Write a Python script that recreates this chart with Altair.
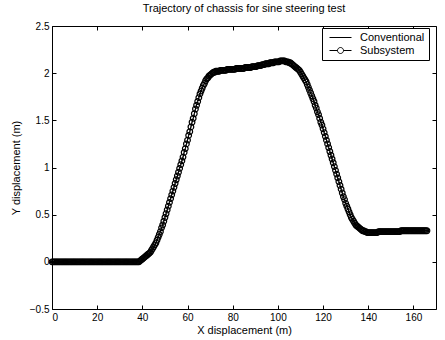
import altair as alt
import numpy as np
import pandas as pd

# ---- data (x step 0.5 m) ----
y_flat_start = [0.0] * 78  # x = 0 .. 38.5, vehicle on straight line
y_rise = [0.01, 0.02, 0.03, 0.04, 0.05, 0.06, 0.07, 0.08, 0.09, 0.10,
          0.12, 0.14, 0.16, 0.18, 0.20, 0.23, 0.26, 0.29, 0.32, 0.36,
          0.39, 0.43, 0.47, 0.51, 0.55, 0.59, 0.63, 0.67, 0.71, 0.75,
          0.79, 0.83, 0.87, 0.91, 0.95, 0.99, 1.03, 1.07, 1.11, 1.16,
          1.20, 1.25, 1.29, 1.34, 1.38, 1.43, 1.48, 1.52, 1.57, 1.62,
          1.66, 1.70, 1.74, 1.78, 1.81, 1.84, 1.87, 1.89, 1.92, 1.94,
          1.95, 1.97, 1.98, 1.99, 2.00, 2.01, 2.01]
y_plateau = [2.02, 2.02, 2.02, 2.02, 2.03, 2.03, 2.03, 2.03, 2.03, 2.03,
             2.04, 2.04, 2.04, 2.04, 2.04, 2.04, 2.04, 2.04, 2.05, 2.05,
             2.05, 2.05, 2.05, 2.05, 2.05, 2.05, 2.06, 2.06, 2.06, 2.06,
             2.06, 2.06, 2.07, 2.07, 2.07, 2.07, 2.07, 2.08, 2.08, 2.08,
             2.08, 2.09, 2.09, 2.09, 2.10, 2.10, 2.10, 2.10, 2.11, 2.11,
             2.11, 2.11, 2.12, 2.12, 2.12, 2.12, 2.12, 2.13, 2.13, 2.13,
             2.13, 2.13]
y_fall = [2.12, 2.12, 2.12, 2.11, 2.11, 2.10, 2.09, 2.08, 2.07, 2.06,
          2.05, 2.04, 2.03, 2.01, 1.99, 1.97, 1.95, 1.93, 1.91, 1.88,
          1.85, 1.82, 1.79, 1.76, 1.73, 1.70, 1.66, 1.63, 1.59, 1.56,
          1.52, 1.48, 1.45, 1.41, 1.37, 1.33, 1.29, 1.25, 1.21, 1.17,
          1.13, 1.09, 1.05, 1.01, 0.97, 0.93, 0.89, 0.85, 0.81, 0.77,
          0.73, 0.69, 0.66, 0.62, 0.59, 0.56, 0.53, 0.50, 0.47, 0.45,
          0.43, 0.41, 0.39, 0.38, 0.37, 0.36, 0.35, 0.34, 0.33, 0.33,
          0.32, 0.32, 0.31, 0.31, 0.31, 0.31, 0.31, 0.31]
y_flat_end = [0.31, 0.31, 0.31, 0.31, 0.32, 0.32, 0.32, 0.32, 0.32, 0.32,
              0.32, 0.32, 0.32, 0.32, 0.32, 0.32, 0.32, 0.32, 0.32, 0.32,
              0.32, 0.32, 0.32, 0.32, 0.33, 0.33, 0.33, 0.33, 0.33, 0.33,
              0.33, 0.33, 0.33, 0.33, 0.33, 0.33, 0.33, 0.33, 0.33, 0.33,
              0.33, 0.33, 0.33, 0.33, 0.33, 0.33, 0.33, 0.33]

series_names = ["Conventional", "Subsystem"]
x_ticks = [0, 20, 40, 60, 80, 100, 120, 140, 160]
y_ticks = [-0.5, 0, 0.5, 1, 1.5, 2, 2.5]

y_all = y_flat_start + y_rise + y_plateau + y_fall + y_flat_end
x_all = np.arange(len(y_all)) * 0.5

df = pd.concat([
    pd.DataFrame({"x": x_all, "y": y_all, "series": "Conventional"}),
    pd.DataFrame({"x": x_all, "y": y_all, "series": "Subsystem"}),
])

FONT = "Liberation Sans"
xs = alt.Scale(domain=[0, 170], nice=False, zero=False)
ys = alt.Scale(domain=[-0.5, 2.5], nice=False, zero=False)

x_axis = alt.Axis(values=x_ticks, orient="bottom", title="X displacement (m)", grid=False,
                  domain=False, offset=-4, tickSize=4, labelPadding=3, labelFontSize=10,
                  titleFontSize=11, titleFontWeight="normal", titlePadding=2,
                  labelColor="black", tickColor="black", titleColor="black")
y_axis = alt.Axis(values=y_ticks, orient="left", title="Y displacement (m)", grid=False,
                  domain=False, offset=-4, tickSize=4, labelPadding=3, labelFontSize=10,
                  format="~g", titleFontSize=11, titleFontWeight="normal", titlePadding=8,
                  labelColor="black", tickColor="black", titleColor="black")
x_top = alt.Axis(values=x_ticks, orient="top", labels=False, title=None, grid=False,
                 domain=False, offset=-4, tickSize=4, tickColor="black")
y_right = alt.Axis(values=y_ticks, orient="right", labels=False, title=None, grid=False,
                   domain=False, offset=-4, tickSize=4, tickColor="black")

base = alt.Chart(df)

conv = base.transform_filter(alt.datum.series == "Conventional").mark_line(
    color="black", strokeWidth=1
).encode(
    x=alt.X("x:Q", scale=xs, axis=x_axis),
    y=alt.Y("y:Q", scale=ys, axis=y_axis),
)

frame_axes = base.transform_filter(alt.datum.series == "Conventional").mark_point(
    opacity=0
).encode(
    x=alt.X("x:Q", scale=xs, axis=x_top),
    y=alt.Y("y:Q", scale=ys, axis=y_right),
)

sub_line = base.transform_filter(alt.datum.series == "Subsystem").mark_line(
    color="black", strokeWidth=1
).encode(x=alt.X("x:Q", scale=xs, axis=None), y=alt.Y("y:Q", scale=ys, axis=None))

sub_pts = base.transform_filter(alt.datum.series == "Subsystem").mark_point(
    filled=False, color="black", strokeWidth=1.2, size=32, opacity=1, shape="circle"
).encode(x=alt.X("x:Q", scale=xs, axis=None), y=alt.Y("y:Q", scale=ys, axis=None))

legend_layer = base.transform_filter(alt.datum.series == "Subsystem").mark_point(
    opacity=0, filled=False, color="black"
).encode(
    x=alt.X("x:Q", scale=xs, axis=None),
    y=alt.Y("y:Q", scale=ys, axis=None),
    shape=alt.Shape(
        "series:N",
        scale=alt.Scale(
            domain=series_names,
            range=["M-2.2,0L2.2,0",
                   "M-2.2,0L-0.6,0M0.6,0A0.6,0.6 0 1 1 -0.6,0A0.6,0.6 0 1 1 0.6,0L2.2,0"],
        ),
        legend=alt.Legend(
            title=None, orient="none", legendX=270, legendY=2,
            fillColor="white", strokeColor="black", padding=4,
            symbolSize=100, symbolStrokeWidth=1, symbolStrokeColor="black",
            symbolFillColor="white", symbolOpacity=1, labelFontSize=11, labelColor="black",
            labelOffset=14, rowPadding=1, symbolOffset=9,
        ),
    ),
)

chart = alt.layer(conv, frame_axes, sub_line, sub_pts, legend_layer).resolve_axis(
    x="independent", y="independent"
).properties(
    width=384, height=283,
    padding={"left": 52, "top": 26, "right": 9, "bottom": 31},
    autosize=alt.AutoSizeParams(type="none"),
    title=alt.Title("Trajectory of chassis for sine steering test", fontSize=11,
                    fontWeight="normal", font=FONT, color="black", offset=7, anchor="middle"),
).configure(font=FONT, background="white").configure_view(
    stroke="black", strokeWidth=1
).configure_axis(labelFont=FONT, titleFont=FONT).configure_legend(labelFont=FONT)

chart.save("out.html", embed_options={"renderer": "svg", "actions": False})
